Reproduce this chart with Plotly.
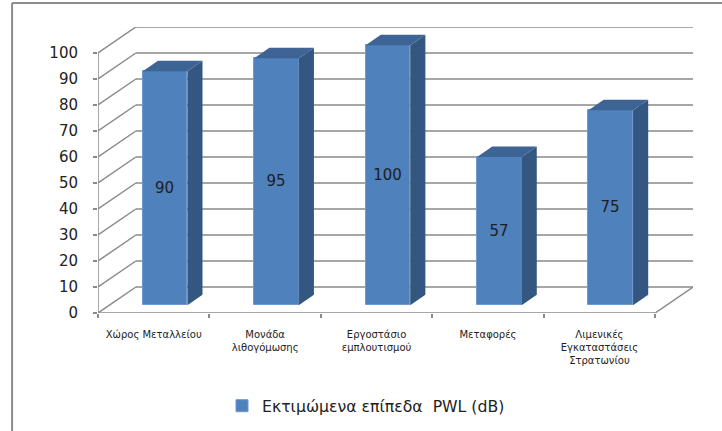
import plotly.graph_objects as go

# ---- data -------------------------------------------------------------
categories = [
    "Χώρος Μεταλλείου",
    "Μονάδα<br>λιθογόμωσης",
    "Εργοστάσιο<br>εμπλουτισμού",
    "Μεταφορές",
    "Λιμενικές<br>Εγκαταστάσεις<br>Στρατωνίου",
]
pwl_values = [90, 95, 100, 57, 75]
series_name = "Εκτιμώμενα επίπεδα  PWL (dB)"
y_ticks = list(range(0, 101, 10))

# ---- pseudo-3D geometry (in data units) -------------------------------
N = len(categories)
DX = 0.34          # depth offset along x (category units)
DY = 10.0          # depth offset along y (value units)
BAR_W = 0.40       # bar width as fraction of category band
D_FRONT, D_BACK = 0.3, 0.7   # bar front/back position inside the depth

FRONT = "#4F81BD"
SIDE = "#335780"
TOP = "#3D6494"
GRID = "#8a8a8a"

# plot-area pixel geometry
W, H = 722, 431
L_M, R_M, T_M, B_M = 98, 28.5, 27, 118
x_range = [0, N + DX]
y_range = [0, 100 + DY]
plot_w = W - L_M - R_M
plot_h = H - T_M - B_M


def px_to_paper_x(px):
    return (px - L_M) / plot_w


def px_to_paper_y(py):
    return (H - B_M - py) / plot_h


fig = go.Figure()

# front faces of the bars
centers = [i + 0.5 + D_FRONT * DX for i in range(N)]
fig.add_trace(go.Bar(
    x=centers,
    y=pwl_values,
    base=D_FRONT * DY,
    width=BAR_W,
    name=series_name,
    marker=dict(color=FRONT, line=dict(color="#6f98cc", width=1)),
    text=[str(v) for v in pwl_values],
    textposition="inside",
    insidetextanchor="middle",
    textangle=0,
    textfont=dict(family="DejaVu Sans", size=15, color="#1e1e1e"),
    cliponaxis=False,
    hoverinfo="skip",
    showlegend=True,
))

# side and top faces
ddx = (D_BACK - D_FRONT) * DX
ddy = (D_BACK - D_FRONT) * DY
b0 = D_FRONT * DY
for c, v in zip(centers, pwl_values):
    xl, xr = c - BAR_W / 2, c + BAR_W / 2
    top = b0 + v
    fig.add_trace(go.Scatter(
        x=[xr, xr + ddx, xr + ddx, xr, xr],
        y=[b0, b0 + ddy, top + ddy, top, b0],
        mode="lines", fill="toself", fillcolor=SIDE,
        line=dict(width=0), showlegend=False, hoverinfo="skip",
    ))
    fig.add_trace(go.Scatter(
        x=[xl, xr, xr + ddx, xl + ddx, xl],
        y=[top, top, top + ddy, top + ddy, top],
        mode="lines", fill="toself", fillcolor=TOP,
        line=dict(width=0), showlegend=False, hoverinfo="skip",
    ))

# walls and floor drawn beneath the bars
shapes = []
line_style = dict(color=GRID, width=1.5)
for v in y_ticks:
    # back wall
    shapes.append(dict(type="line", xref="x", yref="y", layer="below",
                       x0=DX, y0=v + DY, x1=N + DX, y1=v + DY, line=line_style))
    # side wall
    shapes.append(dict(type="line", xref="x", yref="y", layer="below",
                       x0=0, y0=v, x1=DX, y1=v + DY, line=line_style))
# floor
shapes.append(dict(type="line", xref="x", yref="y", layer="below",
                   x0=0, y0=0, x1=N, y1=0, line=line_style))
shapes.append(dict(type="line", xref="x", yref="y", layer="below",
                   x0=N, y0=0, x1=N + DX, y1=DY, line=line_style))
# front value axis
shapes.append(dict(type="line", xref="x", yref="y", layer="below",
                   x0=0, y0=0, x1=0, y1=100, line=line_style))

# chart border (left and top edges)
border = dict(color="#8c8c8c", width=2)
bx, by = px_to_paper_x(12), px_to_paper_y(3)
shapes.append(dict(type="line", xref="paper", yref="paper",
                   x0=bx, y0=by, x1=bx, y1=px_to_paper_y(H + 5), line=border))
shapes.append(dict(type="line", xref="paper", yref="paper",
                   x0=bx, y0=by, x1=px_to_paper_x(W + 5), y1=by, line=border))

fig.update_layout(
    width=W, height=H,
    margin=dict(l=L_M, r=R_M, t=T_M, b=B_M),
    paper_bgcolor="white", plot_bgcolor="white",
    shapes=shapes,
    bargap=0,
    font=dict(family="DejaVu Sans", color="#222222"),
    xaxis=dict(
        range=x_range, showgrid=False, zeroline=False, showline=False,
        tickvals=list(range(N + 1)), ticktext=[""] * (N + 1),
        ticks="outside", ticklen=4, tickcolor=GRID, tickwidth=1.5,
        fixedrange=True,
    ),
    xaxis2=dict(
        range=x_range, overlaying="x", side="bottom", anchor="y",
        showgrid=False, zeroline=False, showline=False, ticks="",
        tickvals=[i + 0.5 for i in range(N)], ticktext=categories,
        tickfont=dict(family="DejaVu Sans", size=10, color="#222222"),
        ticklabelstandoff=14,
    ),
    yaxis=dict(
        range=y_range, showgrid=False, zeroline=False, showline=False,
        tickvals=y_ticks, ticks="outside", ticklen=4, tickcolor=GRID,
        tickwidth=1.5, ticklabelstandoff=12,
        tickfont=dict(family="DejaVu Sans", size=15, color="#222222"),
        fixedrange=True,
    ),
    legend=dict(
        orientation="h", xref="container", yref="container",
        x=222 / W, y=1 - 406 / H, xanchor="left", yanchor="middle",
        font=dict(family="DejaVu Sans", size=15.7, color="#222222"),
        itemwidth=30,
    ),
)

# invisible trace so the category-label axis is rendered
fig.add_trace(go.Scatter(x=[0], y=[0], xaxis="x2", mode="markers",
                         marker=dict(opacity=0), showlegend=False,
                         hoverinfo="skip"))

fig.write_html("out.html")
